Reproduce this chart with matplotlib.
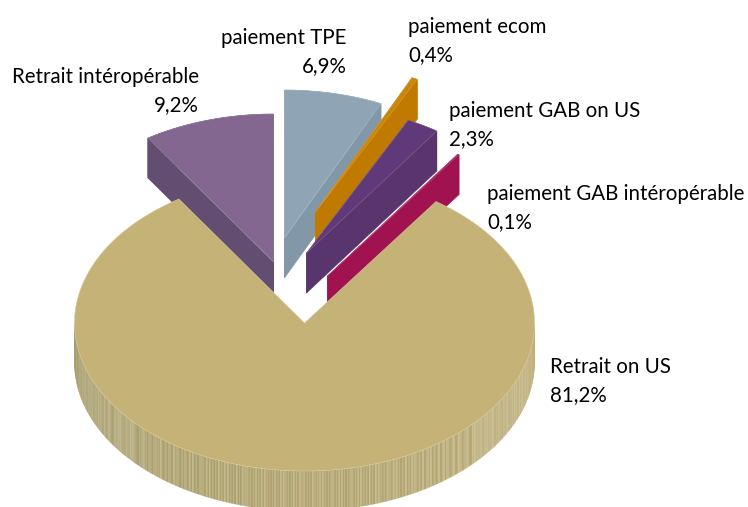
import numpy as np
import matplotlib
matplotlib.use("Agg")
import matplotlib.pyplot as plt

categories = ["Retrait intéropérable", "paiement TPE", "paiement ecom",
              "paiement GAB on US", "paiement GAB intéropérable", "Retrait on US"]
shares = [9.2, 6.9, 0.4, 2.3, 0.1, 81.2]

top_colors = ["#846790", "#8fa5b5", "#cc8606", "#60397a", "#a61450", "#c5b277"]
wall_colors = ["#634d70", "#8298a8", "#c17a00", "#59356e", "#a11350", "#a89c6a"]
apex_offsets = [(-31, -61), (-20, -85), (11, -111), (2, -70), (23, -47), (0, 0)]
label_pos = [(199, 83, "right"), (347, 44, "right"), (408, 33, "left"),
             (449, 117, "left"), (487, 200, "left"), (550, 373, "left")]

CX, CY, RX, RY, DEPTH = 304.5, 323, 230, 148, 40
START_ANGLE = 123.1
LINE_GAP = 28.5

family = "Lato"
fsize = 14.8

fig = plt.figure(figsize=(7.48, 5.07), dpi=100)
ax = fig.add_axes([0, 0, 1, 1])
ax.set_xlim(0, 748)
ax.set_ylim(507, 0)
ax.axis("off")

spans = np.array(shares) / sum(shares) * 360
ends = START_ANGLE - np.cumsum(spans)
starts = np.concatenate([[START_ANGLE], ends[:-1]])


def arc(a1, a2, cx, cy):
    t = np.radians(np.linspace(a1, a2, max(3, int(abs(a2 - a1) * 3))))
    return cx + RX * np.cos(t), cy - RY * np.sin(t)


# exploded slices, back to front
for i in range(5):
    dx, dy = apex_offsets[i]
    cx, cy = CX + dx, CY + dy
    ax_, ay_ = arc(starts[i], ends[i], cx, cy)
    px = np.concatenate([[cx], ax_, [cx]])
    py = np.concatenate([[cy], ay_, [cy]])
    for j in range(len(px) - 1):
        ax.fill([px[j], px[j + 1], px[j + 1], px[j]],
                [py[j], py[j + 1], py[j + 1] + DEPTH, py[j] + DEPTH],
                color=wall_colors[i], lw=0.4, zorder=2 + i)
    ax.fill(px, py, facecolor=top_colors[i], edgecolor="#ffffff40", lw=0.4, zorder=2 + i)

# main slice: striped rim then top
left = np.array([0.64, 0.60, 0.41])
right = np.array([0.74, 0.68, 0.47])
pattern = [0, 0, 1, 0, 0, 0, 1, 0, 1, 0, 0, 0]
t = np.arange(180.0, 360.0, 0.4)
for k, a in enumerate(t):
    x, y = arc(a, a + 0.4, CX, CY)
    u = (k / len(t))
    col = left * (1 - u) + right * u
    if pattern[k % len(pattern)]:
        col = np.minimum(col + 0.06, 1)
    ax.fill([x[0], x[-1], x[-1], x[0]], [y[0], y[-1], y[-1] + DEPTH, y[0] + DEPTH],
            color=col, lw=0.1, zorder=8)
ax_, ay_ = arc(starts[5], ends[5], CX, CY)
ax.fill(np.concatenate([[CX], ax_]), np.concatenate([[CY], ay_]),
        facecolor=top_colors[5], edgecolor="#d8cc9c", lw=0.4, zorder=9)

# labels
for cat, val, (x, y, ha) in zip(categories, shares, label_pos):
    ax.text(x, y, cat, ha=ha, va="baseline", fontsize=fsize, family=family, color="#000000", zorder=20)
    ax.text(x, y + LINE_GAP, f"{val:.1f}%".replace(".", ","), ha=ha, va="baseline",
            fontsize=fsize, family=family, color="#000000", zorder=20)

fig.savefig("out.png", dpi=100)
